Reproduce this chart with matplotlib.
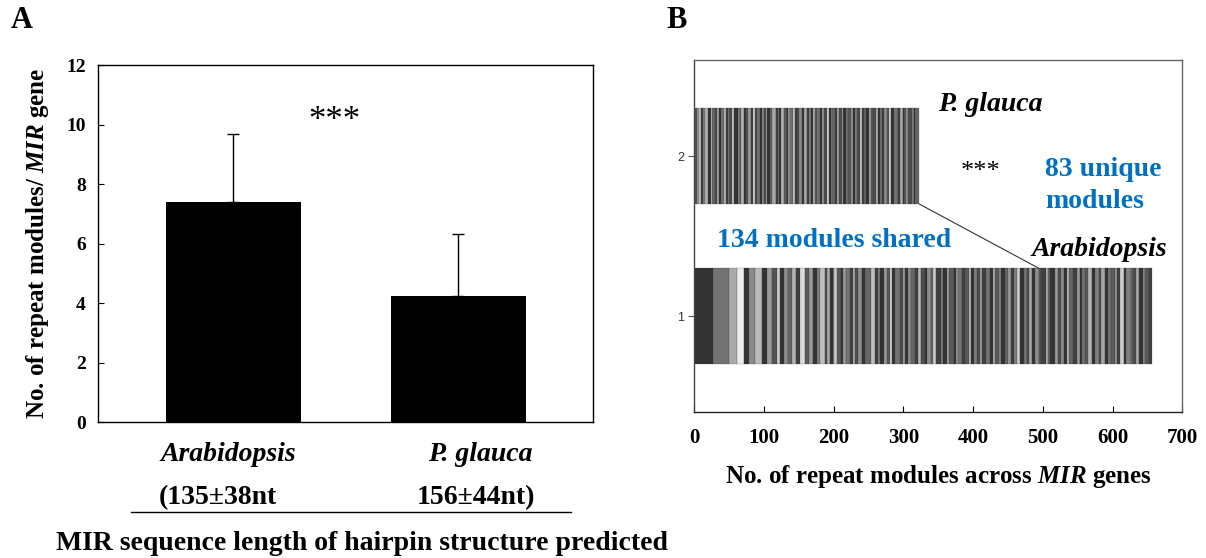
import matplotlib
matplotlib.use('Agg')
import matplotlib.pyplot as plt
import numpy as np

plt.rcParams['font.family'] = ['Liberation Serif', 'DejaVu Serif']
plt.rcParams['font.weight'] = 'bold'
plt.rcParams['axes.labelweight'] = 'bold'
plt.rcParams['mathtext.fontset'] = 'custom'
plt.rcParams['mathtext.it'] = 'Liberation Serif:italic:bold'
plt.rcParams['mathtext.rm'] = 'Liberation Serif:bold'

# panel A data
species = ['Arabidopsis', 'P. glauca']
lengths = ['(135±38nt', '156±44nt)']
mean_modules = [7.39, 4.24]
sd_modules = [2.30, 2.09]

# panel B data: widths (no. of repeats) and grey level (%) of each module stripe
arab_widths = [26.5, 23.5, 11, 9.6, 8.4, 8.5, 9.5, 8, 6.5, 7.2, 4.8, 5.5, 5, 6, 6, 6, 6.5, 5.5, 6.6, 5.4, 5, 6,
               3, 4, 5, 2, 4, 6, 3, 4, 5, 4, 3, 5, 6, 4, 9,
               5, 4, 3, 6, 4, 5, 3, 4, 7, 4, 3, 5, 4, 6, 4,
               4, 6, 3, 5, 4, 4, 7, 3, 5, 4, 6, 3, 4, 5, 4,
               6, 3, 4, 5, 4, 3, 6, 5, 4, 4, 5, 3, 6, 4, 5,
               3, 5, 4, 6, 4, 3, 5, 4, 5, 4, 6, 3, 4, 6, 5,
               4, 5, 3, 4, 6, 5, 4, 3, 5, 4, 6, 4, 5, 3, 6,
               5, 4, 6, 3, 4, 5, 4, 6, 3, 5, 4, 5, 4, 6, 4]
arab_grey = [20, 45, 67, 93, 20, 54, 73, 20, 60, 33, 80, 20, 55, 40, 70, 25, 85, 35, 60, 20, 50, 75,
             30, 65, 20, 50, 80, 35, 20, 60, 45, 25, 70, 30, 55, 20, 40,
             75, 25, 50, 20, 60, 35, 85, 20, 45, 30, 65, 20, 55, 40, 25,
             70, 30, 20, 55, 40, 80, 25, 50, 20, 65, 35, 20, 60, 45, 25,
             35, 75, 20, 50, 30, 65, 25, 45, 20, 70, 35, 55, 20, 40, 60,
             25, 50, 80, 20, 45, 30, 65, 20, 55, 35, 25, 70, 40, 20, 60,
             30, 55, 20, 75, 40, 25, 60, 20, 45, 35, 70, 20, 50, 30, 65,
             20, 45, 35, 60, 25, 80, 20, 50, 40, 30, 65, 20, 55, 35, 25]
glauca_widths = [4, 3, 2, 4, 3, 3, 5, 2, 3, 4,
                 3, 2, 4, 3, 3, 2, 4, 3, 5, 3,
                 2, 4, 3, 3, 5, 2, 3, 3, 4, 3,
                 3, 3, 2, 4, 3, 5, 3, 2, 3, 4,
                 4, 2, 3, 3, 4, 3, 2, 5, 3, 3,
                 3, 4, 3, 2, 3, 4, 3, 3, 5, 2,
                 3, 2, 4, 3, 3, 4, 2, 3, 3, 5,
                 2, 3, 3, 5, 3, 2, 4, 3, 3, 4,
                 3, 4, 2, 3, 3, 5, 3, 2, 4, 3,
                 3, 3, 4, 2, 3, 3, 5, 3, 2, 6]
glauca_grey = [35, 60, 80, 25, 50, 70, 20, 85, 40, 30,
               65, 20, 45, 75, 25, 55, 30, 80, 20, 50,
               40, 70, 20, 35, 60, 25, 85, 30, 45, 20,
               55, 30, 75, 20, 40, 65, 25, 50, 20, 70,
               35, 20, 60, 45, 80, 25, 30, 55, 20, 65,
               25, 50, 20, 70, 35, 45, 20, 60, 30, 85,
               20, 55, 40, 25, 65, 30, 75, 20, 45, 35,
               60, 20, 50, 30, 80, 25, 40, 20, 65, 35,
               30, 70, 20, 45, 25, 55, 35, 85, 20, 50,
               45, 25, 65, 20, 35, 60, 30, 50, 20, 40]

fig = plt.figure(figsize=(12.06, 5.58), dpi=100)

# ---------- panel A ----------
axA = fig.add_axes([0.0815, 0.2432, 0.4102, 0.6403])
pos = [1, 2]
axA.bar(pos, mean_modules, width=0.6, color='black')
axA.errorbar(pos, mean_modules, yerr=[[0, 0], sd_modules], fmt='none',
             ecolor='black', elinewidth=1, capsize=4, capthick=1)
axA.set_xlim(0.4, 2.6)
axA.set_ylim(0, 12)
axA.set_yticks(range(0, 13, 2))
axA.set_xticks(pos)
axA.set_xticklabels(['', ''])
axA.tick_params(axis='y', direction='in', length=4, labelsize=14, pad=9)
axA.tick_params(axis='x', direction='in', length=4)
for lab in axA.get_yticklabels():
    lab.set_fontweight('bold')
for s in axA.spines.values():
    s.set_linewidth(1)
axA.set_ylabel('No. of repeat modules/ $\\mathit{MIR}$ gene', fontsize=18, fontweight='bold')
axA.yaxis.set_label_coords(-0.095, 0.5)
axA.text(1.452, 10.1, '***', fontsize=25, fontweight='normal', ha='center', va='center')

tr = axA.get_xaxis_transform()
axA.text(0.98, -0.0915, species[0], fontsize=20, style='italic', ha='center', va='center', transform=tr)
axA.text(2.10, -0.0915, species[1], fontsize=20, style='italic', ha='center', va='center', transform=tr)
axA.text(0.93, -0.212, lengths[0], fontsize=20, ha='center', va='center', transform=tr)
axA.text(2.08, -0.212, lengths[1], fontsize=20, ha='center', va='center', transform=tr)
axA.plot([0.545, 2.503], [-0.252, -0.252], color='black', lw=1, transform=tr, clip_on=False)
fig.text(56 / 1206, 1 - 543 / 558, 'MIR sequence length of hairpin structure predicted',
         fontsize=20, ha='left', va='center')
fig.text(22 / 1206, 1 - 21 / 558, 'A', fontsize=22, ha='center', va='center')

# ---------- panel B ----------
axB = fig.add_axes([0.5757, 0.2611, 0.4046, 0.6314])
arab_left = np.concatenate([[0], np.cumsum(arab_widths)[:-1]])
glauca_left = np.concatenate([[0], np.cumsum(glauca_widths)[:-1]])
axB.barh(np.ones(len(arab_widths)), arab_widths, left=arab_left, height=0.6,
         color=[str(g / 100) for g in arab_grey], edgecolor='#333333', linewidth=0.15)
axB.barh(np.full(len(glauca_widths), 2), glauca_widths, left=glauca_left, height=0.6,
         color=[str(g / 100) for g in glauca_grey], edgecolor='#333333', linewidth=0.15)
axB.plot([sum(glauca_widths), 494], [1.70, 1.30], color='#333333', lw=0.8)

axB.set_xlim(0, 700)
axB.set_ylim(0.4, 2.6)
axB.set_xticks(range(0, 701, 100))
axB.set_yticks([1, 2])
axB.tick_params(axis='x', direction='in', length=4, labelsize=15, pad=11)
axB.tick_params(axis='y', direction='out', length=4, labelsize=9, labelcolor='#333333', color='#555555')
for lab in axB.get_xticklabels():
    lab.set_fontweight('bold')
for lab in axB.get_yticklabels():
    lab.set_fontfamily('Liberation Sans')
    lab.set_fontweight('normal')
for s in axB.spines.values():
    s.set_color('#666666')
    s.set_linewidth(1)
axB.spines['bottom'].set_color('#222222')
axB.spines['left'].set_color('#444444')

axB.text(0.5, -0.183, 'No. of repeat modules across $\\mathit{MIR}$ genes', fontsize=18,
         ha='center', va='center', transform=axB.transAxes)
axB.text(425, 2.32, 'P. glauca', fontsize=20, style='italic', ha='center', va='center')
axB.text(581, 1.417, 'Arabidopsis', fontsize=20, style='italic', ha='center', va='center')
axB.text(411, 1.90, '***', fontsize=19, fontweight='normal', ha='center', va='center')
axB.text(503, 1.815, '83 unique\nmodules', fontsize=20, color='#0070C0', ha='left', va='center',
         linespacing=1.35)
axB.text(33, 1.47, '134 modules shared', fontsize=20, color='#0070C0', ha='left', va='center')
fig.text(677 / 1206, 1 - 20 / 558, 'B', fontsize=22, ha='center', va='center')

fig.savefig('out.png', dpi=100)
